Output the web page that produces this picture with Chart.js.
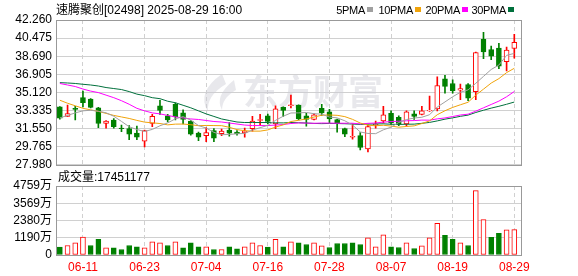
<!DOCTYPE html>
<html>
<head>
<meta charset="utf-8">
<script src="https://cdn.jsdelivr.net/npm/chart.js@4.4.0/dist/chart.umd.min.js"></script>
<style>
body{margin:0;background:#fff;width:578px;height:276px;overflow:hidden;position:relative;font-family:"Liberation Sans","Noto Sans CJK SC",sans-serif;}
canvas{position:absolute;left:0}
#kline{top:0}
#vol{top:170px}
.t{position:absolute;font-size:12px;line-height:14px;color:#000;white-space:nowrap}
.lg{font-size:11px;letter-spacing:-0.3px}
.sq{position:absolute;top:7px;width:6px;height:5px}
</style>
</head>
<body>
<canvas id="kline" width="578" height="176"></canvas>
<canvas id="vol" width="578" height="106"></canvas>
<div class="t" style="left:56px;top:3px">速腾聚创[02498] 2025-08-29 16:00</div>
<div class="t lg" style="right:213px;top:3px">5PMA</div><div class="sq" style="left:367px;background:#a0a0a0"></div>
<div class="t lg" style="right:165px;top:3px">10PMA</div><div class="sq" style="left:415px;background:#f0a30a"></div>
<div class="t lg" style="right:118px;top:3px">20PMA</div><div class="sq" style="left:462px;background:#ff00ff"></div>
<div class="t lg" style="right:72px;top:3px">30PMA</div><div class="sq" style="left:508px;background:#00703c"></div>
<div class="t" style="left:58px;top:170px">成交量:17451177</div>
<script>
// trading days shown
const dates = ['06-06','06-09','06-10','06-11','06-12','06-13','06-16','06-17','06-18','06-19',
  '06-20','06-23','06-24','06-25','06-26','06-27','06-30','07-02','07-03','07-04',
  '07-07','07-08','07-09','07-10','07-11','07-14','07-15','07-16','07-17','07-18',
  '07-21','07-22','07-23','07-24','07-25','07-28','07-29','07-30','07-31','08-01',
  '08-04','08-05','08-06','08-07','08-08','08-11','08-12','08-13','08-14','08-15',
  '08-18','08-19','08-20','08-21','08-22','08-25','08-26','08-27','08-28','08-29'];
const tickDates = ['06-11','06-23','07-04','07-16','07-28','08-07','08-19','08-29'];

const opens = [33.69,32.74,33.55,34.6,34.45,33.6,32.05,32.4,31.6,31.55,
  31.1,30.3,32.05,33.8,32.8,33.95,33.1,32.3,31.1,30.85,
  31.35,31.05,31.4,31.2,31.15,31.55,32.35,32.8,32.0,33.65,
  33.8,33.85,32.8,32.45,33.55,33.2,32.45,31.55,30.7,30.85,
  29.55,31.9,32.3,33.05,32.65,32.0,33.0,32.95,33.3,33.5,
  36.45,36.0,35.35,35.9,35.2,40.35,39.35,39.5,38.15,39.45];
const closes = [32.58,33.04,33.45,34.1,33.65,32.05,32.3,31.75,31.55,31.0,
  30.7,31.35,32.75,33.35,32.4,32.7,32.45,31.0,30.7,31.15,
  30.6,31.3,31.1,31.05,31.3,32.3,32.45,32.25,33.5,33.35,
  33.9,32.5,32.45,32.9,33.1,32.5,32.1,31.0,30.8,29.7,
  31.75,32.0,32.9,32.1,32.0,33.2,32.75,33.3,33.35,35.8,
  35.7,35.3,35.5,34.55,39.05,39.1,38.7,37.7,39.3,40.05];
const highs = [33.73,33.88,33.75,35.25,34.5,33.65,32.35,32.55,31.9,31.85,
  31.8,31.4,32.95,34.35,32.95,34.1,33.4,32.35,31.2,31.65,
  31.55,31.5,32.15,31.35,31.6,32.75,32.95,32.97,33.8,33.7,
  34.85,33.9,33.05,33.0,33.95,33.45,32.5,31.6,32.0,31.15,
  31.9,32.3,33.75,33.3,32.8,33.3,33.3,33.75,34.75,36.65,
  36.8,36.35,35.95,36.0,39.1,41.05,39.7,39.95,39.6,40.85];
const lows = [32.47,32.74,32.4,33.7,33.6,31.65,31.6,31.6,31.25,30.45,
  30.45,29.75,31.75,32.95,32.2,32.4,32.0,30.9,30.35,30.25,
  30.25,30.85,30.8,30.9,30.7,31.3,31.85,32.0,31.55,32.75,
  33.6,32.4,31.8,32.4,32.85,32.1,31.2,30.75,30.5,29.45,
  29.25,31.6,32.1,31.95,31.85,31.8,32.45,32.9,33.25,33.3,
  35.05,35.05,34.4,34.3,34.4,38.45,38.35,37.45,37.25,38.5];
const prevClose = 33.0;

const ma5 = [32.6,32.85,33.1,33.3,33.36,33.26,33.11,32.77,32.26,31.73,
  31.46,31.27,31.47,31.83,32.11,32.51,32.73,32.38,31.85,31.6,
  31.18,30.95,30.97,31.04,31.07,31.41,31.64,31.87,32.36,32.77,
  33.09,33.1,33.14,33.02,32.97,32.69,32.61,32.32,31.9,31.22,
  31.07,31.05,31.43,31.69,32.15,32.44,32.59,32.67,32.92,33.68,
  34.18,34.69,35.13,35.37,36.02,36.7,37.38,37.82,38.77,38.97];
const ma10 = [34.35,34.05,33.8,33.55,33.4,33.25,33.05,32.85,32.7,32.55,
  32.36,32.19,32.12,32.05,31.92,31.99,32.0,31.93,31.84,31.86,
  31.85,31.84,31.68,31.45,31.34,31.3,31.3,31.42,31.7,31.92,
  32.25,32.37,32.5,32.69,32.87,32.89,32.86,32.73,32.46,32.1,
  31.88,31.83,31.88,31.8,31.69,31.76,31.82,32.05,32.31,32.92,
  33.31,33.64,33.9,34.15,34.85,35.44,36.04,36.48,37.07,37.5];
const ma20 = [36.0,35.85,35.7,35.45,35.25,35.1,34.85,34.6,34.3,33.95,
  33.55,33.3,33.1,33.0,32.85,32.7,32.6,32.5,32.45,32.35,
  32.25,32.2,32.1,32.0,31.9,31.85,31.85,31.85,31.9,31.95,
  32.05,32.11,32.09,32.07,32.1,32.09,32.08,32.08,32.08,32.01,
  32.07,32.1,32.19,32.24,32.28,32.32,32.34,32.39,32.38,32.51,
  32.6,32.74,32.89,32.97,33.27,33.6,33.93,34.26,34.69,35.21];
const ma30 = [36.08,36.05,36.0,35.92,35.85,35.75,35.6,35.5,35.4,35.2,
  34.95,34.8,34.6,34.5,34.25,34.1,33.85,33.6,33.3,33.0,
  32.75,32.5,32.35,32.2,32.15,32.15,32.15,32.15,32.12,32.11,
  32.15,32.13,32.1,32.06,32.04,32.06,32.05,32.03,32.0,31.96,
  31.99,32.01,32.02,31.98,31.96,31.98,31.99,32.07,32.16,32.31,
  32.48,32.61,32.76,32.88,33.14,33.36,33.57,33.75,33.95,34.17];

// volume, in 万 shares
const volume = [540,657,844,1230,657,1073,498,498,380,657,
  567,498,913,844,657,913,498,844,567,567,
  380,380,567,429,567,844,657,540,1073,567,
  913,844,727,844,637,519,796,796,844,727,
  1190,567,1398,567,519,844,450,637,1190,2180,
  1350,1073,844,657,4443,2436,1211,1488,1744,1745.1177];

const priceTicks = [27.98,29.765,31.55,33.335,35.12,36.905,38.69,40.475,42.26];
const volTicks = [0,1190,2380,3569,4759];
const volTickLabels = ['0','1190万','2380万','3569万','4759万'];

const FONT = '"Liberation Sans", "Noto Sans CJK SC", sans-serif';
const UP = '#ff0000', DOWN = '#008000';
const GRID = '#d0d0d0';

const idx = dates.map((d, i) => i);
const tickIdx = tickDates.map(d => dates.indexOf(d));
const candleUp = idx.map(i => closes[i] >= opens[i]);
const volUp = idx.map(i => closes[i] > (i ? closes[i - 1] : prevClose));

function xAxis(showLabels) {
  return {
    type: 'linear', min: -0.5, max: 60, offset: false,
    afterBuildTicks: s => { s.ticks = tickIdx.map(v => ({value: v})); },
    afterFit: s => { s.height = showLabels ? 21 : 0; },
    grid: {color: GRID, drawTicks: false, offset: false},
    border: {display: false, dash: [4, 3]},
    ticks: {display: showLabels, autoSkip: false, maxRotation: 0, padding: 5,
      color: UP, font: {size: 12, family: FONT}, callback: v => dates[v]}
  };
}

const frame = {
  id: 'frame',
  afterDraw(chart) {
    const {ctx, chartArea: a} = chart;
    ctx.save();
    ctx.strokeStyle = '#999';
    ctx.lineWidth = 1;
    ctx.strokeRect(Math.round(a.left) + 0.5, Math.round(a.top) + 0.5,
      Math.round(a.right - a.left) - 1, Math.round(a.bottom - a.top));
    ctx.restore();
  }
};

const watermark = {
  id: 'watermark',
  beforeDatasetsDraw(chart) {
    const ctx = chart.ctx;
    ctx.save();
    ctx.fillStyle = 'rgba(205,205,212,0.45)';
    ctx.beginPath();
    ctx.moveTo(222, 74);
    ctx.quadraticCurveTo(196, 92, 208, 112);
    ctx.quadraticCurveTo(206, 96, 226, 84);
    ctx.closePath();
    ctx.fill();
    ctx.beginPath();
    ctx.moveTo(234, 80);
    ctx.quadraticCurveTo(214, 96, 222, 110);
    ctx.quadraticCurveTo(222, 98, 236, 90);
    ctx.closePath();
    ctx.fill();
    ctx.font = 'bold 35px "Noto Sans CJK SC"';
    ctx.textBaseline = 'middle';
    ctx.fillText('东方财富', 243, 92);
    ctx.restore();
  }
};

new Chart(document.getElementById('kline'), {
  type: 'bar',
  data: {
    datasets: [
      {type: 'line', data: idx.map(i => ({x: i, y: ma5[i]})), borderColor: '#a0a0a0', borderWidth: 1, pointRadius: 0, order: 0},
      {type: 'line', data: idx.map(i => ({x: i, y: ma10[i]})), borderColor: '#f0a30a', borderWidth: 1, pointRadius: 0, order: 0},
      {type: 'line', data: idx.map(i => ({x: i, y: ma20[i]})), borderColor: '#ff00ff', borderWidth: 1, pointRadius: 0, order: 0},
      {type: 'line', data: idx.map(i => ({x: i, y: ma30[i]})), borderColor: '#00703c', borderWidth: 1, pointRadius: 0, order: 0},
      {data: idx.map(i => ({x: i, y: [opens[i], closes[i]]})),
        backgroundColor: idx.map(i => candleUp[i] ? '#ffffff' : DOWN),
        borderColor: idx.map(i => candleUp[i] ? UP : DOWN),
        borderWidth: 1, borderSkipped: false, barThickness: 5, grouped: false, order: 1},
      {data: idx.map(i => ({x: i, y: [lows[i], highs[i]]})),
        backgroundColor: idx.map(i => candleUp[i] ? UP : DOWN),
        barThickness: 1, grouped: false, order: 2}
    ]
  },
  options: {
    responsive: false, animation: false,
    layout: {padding: {top: 20, right: 56, bottom: 11, left: 0}},
    plugins: {legend: {display: false}, tooltip: {enabled: false}},
    scales: {
      x: xAxis(false),
      y: {
        min: 27.98, max: 42.26, beginAtZero: false,
        afterBuildTicks: s => { s.ticks = priceTicks.map(v => ({value: v})); },
        afterFit: s => { s.width = 56; },
        grid: {color: GRID, drawTicks: false},
        border: {display: false},
        ticks: {autoSkip: false, padding: 4, color: '#000', font: {size: 12, family: FONT},
          callback: v => v.toFixed(3)}
      }
    }
  },
  plugins: [watermark, frame]
});

new Chart(document.getElementById('vol'), {
  type: 'bar',
  data: {
    datasets: [{
      data: idx.map(i => ({x: i, y: volume[i]})),
      backgroundColor: idx.map(i => volUp[i] ? '#ffffff' : DOWN),
      borderColor: idx.map(i => volUp[i] ? UP : DOWN),
      borderWidth: 1, borderSkipped: false, barThickness: 5
    }]
  },
  options: {
    responsive: false, animation: false,
    layout: {padding: {top: 16, right: 56, bottom: 0, left: 0}},
    plugins: {legend: {display: false}, tooltip: {enabled: false}},
    scales: {
      x: xAxis(true),
      y: {
        min: 0, max: 4759,
        afterBuildTicks: s => { s.ticks = volTicks.map(v => ({value: v})); },
        afterFit: s => { s.width = 56; },
        grid: {color: GRID, drawTicks: false},
        border: {display: false},
        ticks: {autoSkip: false, padding: 4, color: '#000', font: {size: 12, family: FONT},
          callback: (v, i) => volTickLabels[i]}
      }
    }
  },
  plugins: [frame]
});
</script>
</body>
</html>
